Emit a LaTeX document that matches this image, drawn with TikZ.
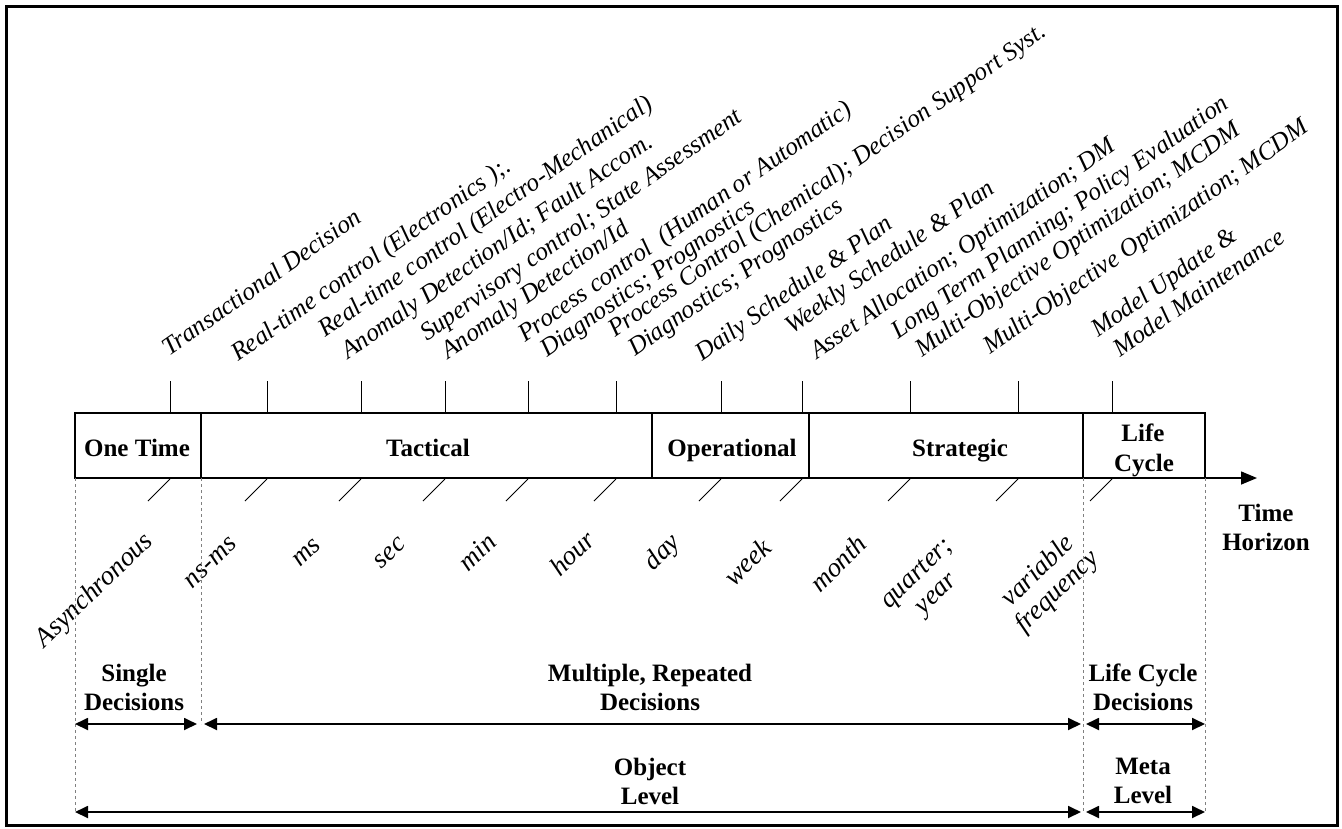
\documentclass[tikz,border=0pt]{standalone}
\usepackage{fontspec}
\setmainfont{Liberation Serif}
\usetikzlibrary{arrows.meta}
\tikzset{
 box/.style={draw, line width=1.2pt, minimum height=65pt, inner sep=0pt},
 boxtext/.style={anchor=base, inner sep=0pt, font=\fontsize{25}{30}\selectfont\bfseries},
 toplab/.style={rotate=35, anchor=base west, inner sep=0pt, font=\fontsize{25.3}{27}\selectfont\itshape},
 botlab/.style={rotate=44, inner sep=0pt, font=\fontsize{27}{28}\selectfont\itshape, align=center},
 tickline/.style={line width=1pt},
 guide/.style={gray, dashed, line width=0.7pt},
 span/.style={{Triangle[length=13pt,width=12pt]}-{Triangle[length=13pt,width=12pt]}, line width=1.8pt},
 lab/.style={font=\fontsize{25}{29}\selectfont\bfseries, align=center, inner sep=0pt}
}
\begin{document}
\begin{tikzpicture}[x=1pt,y=-1pt]
\useasboundingbox (0,0) rectangle (1342,828);
\draw[line width=3pt] (6,6) rectangle (1337,825);

% boxes
\node[box, minimum width=126pt] (onetime) at (138,445.5) {};
\node[box, minimum width=451pt] (tactical) at (426.5,445.5) {};
\node[box, minimum width=157pt] (operational) at (730.5,445.5) {};
\node[box, minimum width=274pt] (strategic) at (946,445.5) {};
\node[box, minimum width=122pt] (lifecycle) at (1144,445.5) {};
\node[boxtext] (onetimet) at (137,456) {One Time};
\node[boxtext] (tacticalt) at (428,456) {Tactical};
\node[boxtext] (operationalt) at (732,456) {Operational};
\node[boxtext] (strategict) at (960,456) {Strategic};
\node[boxtext] (lifet) at (1143,441) {Life};
\node[boxtext] (cyclet) at (1144,471) {Cycle};

% axis
\coordinate (axS) at (75,478);
\coordinate (axE) at (1257,478);
\draw[line width=1.5pt, -{Triangle[length=16pt,width=13pt]}] (axS) -- (axE);
\node[lab] (th) at (1266,527) {Time\\Horizon};

% ticks
\foreach \x in {170,267,361,445,528,616,721,802,910,1018,1112}{
  \draw[tickline] (\x,381) -- (\x,413);
  \draw[tickline] (\x,479) -- (\x-22,501);
}

% top labels
\node[toplab] (t1) at (169,357) {Transactional Decision};
\node[toplab] (t2) at (238,362) {Real-time control (Electronics );.};
\node[toplab] (t3) at (325,338) {Real-time control (Electro-Mechanical)};
\node[toplab] (t4) at (348,360) {Anomaly Detection/Id; Fault Accom.};
\node[toplab] (t5) at (427,342) {Supervisory control; State Assessment};
\node[toplab] (t6) at (448,360) {Anomaly Detection/Id};
\node[toplab] (t7) at (525,343) {Process control \ (Human or Automatic)};
\node[toplab] (t8) at (547,358) {Diagnostics; Prognostics};
\node[toplab] (t9) at (615,338) {Process Control (Chemical); Decision Support Syst.};
\node[toplab] (t10) at (635,357) {Diagnostics; Prognostics};
\node[toplab] (t11) at (702,362) {Daily Schedule \& Plan};
\node[toplab] (t12) at (792,335) {Weekly Schedule \& Plan};
\node[toplab] (t13) at (817,360) {Asset Allocation; Optimization; DM};
\node[toplab] (t14) at (898,340) {Long Term Planning; Policy Evaluation};
\node[toplab] (t15) at (922,358) {Multi-Objective Optimization; MCDM};
\node[toplab] (t16) at (990,355) {Multi-Objective Optimization; MCDM};
\node[toplab] (t17) at (1098,338) {Model Update \&};
\node[toplab] (t18) at (1120,358) {Model Maintenance};

% bottom labels
\node[botlab] (b1) at (95,591) {Asynchronous};
\node[botlab] (b2) at (211,563) {ns-ms};
\node[botlab] (b3) at (307,553) {ms};
\node[botlab] (b4) at (390,553) {sec};
\node[botlab] (b5) at (477,552) {min};
\node[botlab] (b6) at (572,553) {hour};
\node[botlab] (b7) at (663,553) {day};
\node[botlab] (b8) at (747,562) {week};
\node[botlab] (b9) at (838,563) {month};
\node[botlab] (b10) at (928,585) {quarter;\\year};
\node[botlab] (b11) at (1048,582) {variable\\frequency};

% guides
\coordinate (g1t) at (75,478);   \coordinate (g1b) at (75,812);
\coordinate (g2t) at (201,478);  \coordinate (g2b) at (201,724);
\coordinate (g3t) at (1083,478); \coordinate (g3b) at (1083,812);
\coordinate (g4t) at (1205,478); \coordinate (g4b) at (1205,812);
\draw[guide] (g1t) -- (g1b);
\draw[guide] (g2t) -- (g2b);
\draw[guide] (g3t) -- (g3b);
\draw[guide] (g4t) -- (g4b);

% spans
\coordinate (s1a) at (75,724);   \coordinate (s1b) at (197,724);
\coordinate (s2a) at (204,724);  \coordinate (s2b) at (1081,724);
\coordinate (s3a) at (1086,724); \coordinate (s3b) at (1205,724);
\coordinate (s4a) at (75,812);   \coordinate (s4b) at (1081,812);
\coordinate (s5a) at (1086,812); \coordinate (s5b) at (1205,812);
\draw[span] (s1a) -- (s1b);
\draw[span] (s2a) -- (s2b);
\draw[span] (s3a) -- (s3b);
\draw[span] (s4a) -- (s4b);
\draw[span] (s5a) -- (s5b);

\node[lab] (l1) at (134,687) {Single\\Decisions};
\node[lab] (l2) at (650,687) {Multiple, Repeated\\Decisions};
\node[lab] (l3) at (1143,687) {Life Cycle\\Decisions};
\node[lab] (l4) at (650,781) {Object\\Level};
\node[lab] (l5) at (1143,781) {Meta\\Level};
\end{tikzpicture}
\end{document}
